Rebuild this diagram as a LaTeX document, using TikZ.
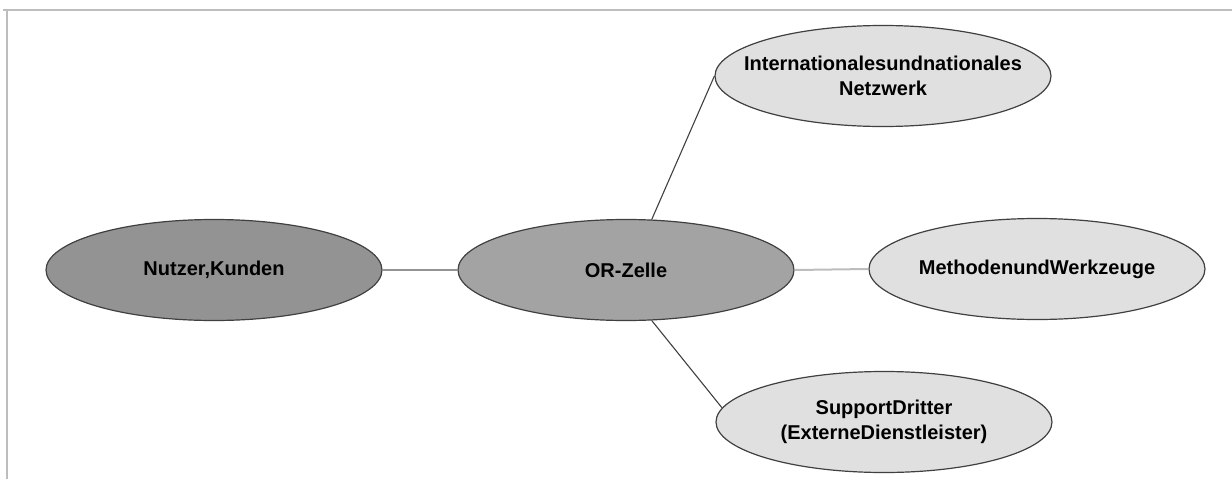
\documentclass[tikz,border=0pt]{standalone}
\usepackage{fontspec}
\setmainfont{Liberation Sans}
\usetikzlibrary{shapes.geometric}
\definecolor{darkfill}{HTML}{939393}
\definecolor{midfill}{HTML}{A3A3A3}
\definecolor{lightfill}{HTML}{E0E0E0}
\definecolor{edgecol}{HTML}{404040}
\definecolor{framecol}{HTML}{BDBDBD}
\begin{document}
\begin{tikzpicture}[x=1pt,y=-1pt,
  blob/.style={ellipse,draw=edgecol,line width=1.2pt,inner sep=0pt,
    minimum width=336pt,minimum height=101pt},
  darkblob/.style={blob,fill=darkfill},
  midblob/.style={blob,fill=midfill},
  lightblob/.style={blob,fill=lightfill},
  blobtext/.style={inner sep=0pt,align=center,
    font=\fontsize{20}{25}\selectfont\bfseries},
  thinlink/.style={draw=edgecol,line width=1.1pt},
  greylink/.style={draw=gray!85,line width=2pt},
  palelink/.style={draw=framecol,line width=2pt},
  frameline/.style={draw=framecol,line width=1.6pt}]
\useasboundingbox (0,0) rectangle (1232,479);
\coordinate (ftl) at (7,10);
\coordinate (ftr) at (1232,10);
\coordinate (fbl) at (7,479);
\coordinate (ftl0) at (3,10);
\draw[frameline] (ftl0) -- (ftr);
\draw[frameline] (ftl) -- (fbl);

\node[darkblob] (nutzer) at (214,270) {};
\node[midblob] (or) at (626,270) {};
\node[lightblob] (intl) at (883,76) {};
\node[lightblob] (meth) at (1037,269) {};
\node[lightblob] (sup) at (884,422) {};

\node[blobtext] (nutzert) at (nutzer) {Nutzer,Kunden};
\node[blobtext] (ort) at (or) {OR-Zelle};
\node[blobtext] (intlt) at (intl) {Internationalesundnationales\\Netzwerk};
\node[blobtext] (metht) at (meth) {MethodenundWerkzeuge};
\node[blobtext] (supt) at (sup) {SupportDritter\\(ExterneDienstleister)};

\draw[greylink] (nutzer.east) -- (or.west);
\draw[thinlink] (or.63) -- (intl.west);
\draw[palelink] (or.east) -- (meth.west);
\draw[thinlink] (or.-63) -- (sup.175);
\end{tikzpicture}
\end{document}
